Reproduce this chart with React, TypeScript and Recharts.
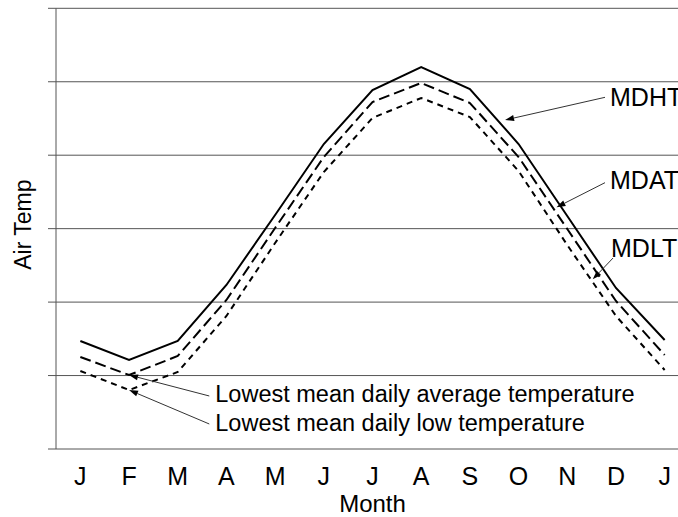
import React from 'react';
import { LineChart, Line, XAxis, YAxis, CartesianGrid, ReferenceLine } from 'recharts';

const months = ['J', 'F', 'M', 'A', 'M', 'J', 'J', 'A', 'S', 'O', 'N', 'D', 'J'];
const mdht = [14.7, 12.12, 14.7, 22.33, 31.86, 41.52, 48.88, 52.01, 49.01, 41.52, 31.72, 21.92, 14.84];
const mdat = [12.53, 10.07, 12.66, 20.29, 30.09, 39.75, 47.24, 49.83, 47.11, 39.75, 29.95, 20.15, 12.8];
const mdlt = [10.62, 8.03, 10.48, 18.11, 28.05, 37.71, 45.07, 47.79, 45.2, 37.85, 27.77, 18.11, 10.76];
const yTicks = [0, 10, 20, 30, 40, 50, 60];
const monthTicks = months.map((_, i) => i);
const boundaryTicks = [...months.map((_, i) => i - 0.5), months.length - 0.5];

// annotations: label, text anchor point (data coords), arrow tip (data coords)
const annotations = [
  { label: 'MDHT', from: { x: 10.775, y: 47.88 }, to: { x: 8.722, y: 44.79 }, dx: 5, dy: 9 },
  { label: 'MDAT', from: { x: 10.775, y: 36.26 }, to: { x: 9.779, y: 32.91 }, dx: 5, dy: 6 },
  { label: 'MDLT', from: { x: 10.94, y: 26.0 }, to: { x: 10.523, y: 23.1 }, dx: -2, dy: -1 },
  { label: 'Lowest mean daily average temperature', from: { x: 2.648, y: 7.216 }, to: { x: 1, y: mdat[1] }, dx: 6, dy: 6 },
  { label: 'Lowest mean daily low temperature', from: { x: 2.648, y: 3.404 }, to: { x: 1, y: mdlt[1] }, dx: 6, dy: 7 },
];

const data = months.map((m, i) => ({ i, m, mdht: mdht[i], mdat: mdat[i], mdlt: mdlt[i] }));

const FONT = '"Liberation Sans", Arial, sans-serif';

const makeArrow = (label: string, dx: number, dy: number, fontSize: number) => (props: any) => {
  const { x1, y1, x2, y2 } = props;
  const ang = Math.atan2(y2 - y1, x2 - x1);
  const len = 9;
  const hw = 3;
  const bx = x2 - len * Math.cos(ang);
  const by = y2 - len * Math.sin(ang);
  const px = -Math.sin(ang) * hw;
  const py = Math.cos(ang) * hw;
  return (
    <g>
      <line x1={x1} y1={y1} x2={bx} y2={by} stroke="#333" strokeWidth={1} />
      <polygon points={`${x2},${y2} ${bx + px},${by + py} ${bx - px},${by - py}`} fill="#000" />
      <text x={x1 + dx} y={y1 + dy} fontFamily={FONT} fontSize={fontSize} fill="#000">
        {label}
      </text>
    </g>
  );
};

export default function App() {
  return (
    <div style={{ position: 'absolute', left: 0, top: 0, width: 678, height: 517, overflow: 'hidden', background: '#fff' }}>
      <LineChart width={689} height={517} data={data} margin={{ top: 8.3, right: 0, bottom: 0, left: 0 }}>
        <CartesianGrid vertical={false} stroke="#555" strokeWidth={1} />
        <XAxis
          xAxisId="b"
          type="number"
          dataKey="i"
          domain={[-0.5, 12.5]}
          allowDataOverflow
          ticks={boundaryTicks}
          tickFormatter={() => ''}
          tickSize={8}
          height={0}
          stroke="#555"
          interval={0}
        />
        <XAxis
          xAxisId="m"
          type="number"
          dataKey="i"
          domain={[-0.5, 12.5]}
          allowDataOverflow
          ticks={monthTicks}
          tickFormatter={(v: number) => months[v]}
          tickLine={false}
          axisLine={false}
          tickSize={8}
          tickMargin={10}
          height={68}
          interval={0}
          tick={{ fontSize: 25, fill: '#000', fontFamily: FONT }}
          label={{
            content: (p: any) => {
              const vb = p.viewBox;
              return (
                <text x={vb.x + vb.width / 2} y={vb.y + vb.height - 5} textAnchor="middle" fontFamily={FONT} fontSize={24} fill="#000">
                  Month
                </text>
              );
            },
          }}
        />
        <YAxis
          type="number"
          domain={[0, 60]}
          ticks={yTicks}
          allowDataOverflow
          width={56}
          tickSize={8}
          tickFormatter={() => ''}
          stroke="#555"
          interval={0}
          label={{
            content: (p: any) => {
              const vb = p.viewBox;
              const cx = vb.x + 23;
              const cy = vb.y + vb.height / 2 - 4;
              return (
                <text x={cx} y={cy} transform={`rotate(-90 ${cx} ${cy})`} textAnchor="middle" dominantBaseline="central" fontFamily={FONT} fontSize={23} fill="#000">
                  Air Temp
                </text>
              );
            },
          }}
        />
        <Line xAxisId="m" type="linear" dataKey="mdht" stroke="#000" strokeWidth={2} dot={false} isAnimationActive={false} />
        <Line xAxisId="m" type="linear" dataKey="mdat" stroke="#000" strokeWidth={2} strokeDasharray="11 5" dot={false} isAnimationActive={false} />
        <Line xAxisId="m" type="linear" dataKey="mdlt" stroke="#000" strokeWidth={2} strokeDasharray="6 5" dot={false} isAnimationActive={false} />
        {annotations.map((a) => (
          <ReferenceLine
            key={a.label}
            xAxisId="m"
            segment={[a.from, a.to]}
            ifOverflow="visible"
            shape={makeArrow(a.label, a.dx, a.dy, a.label.length > 4 ? 23.5 : 25)}
          />
        ))}
      </LineChart>
    </div>
  );
}
